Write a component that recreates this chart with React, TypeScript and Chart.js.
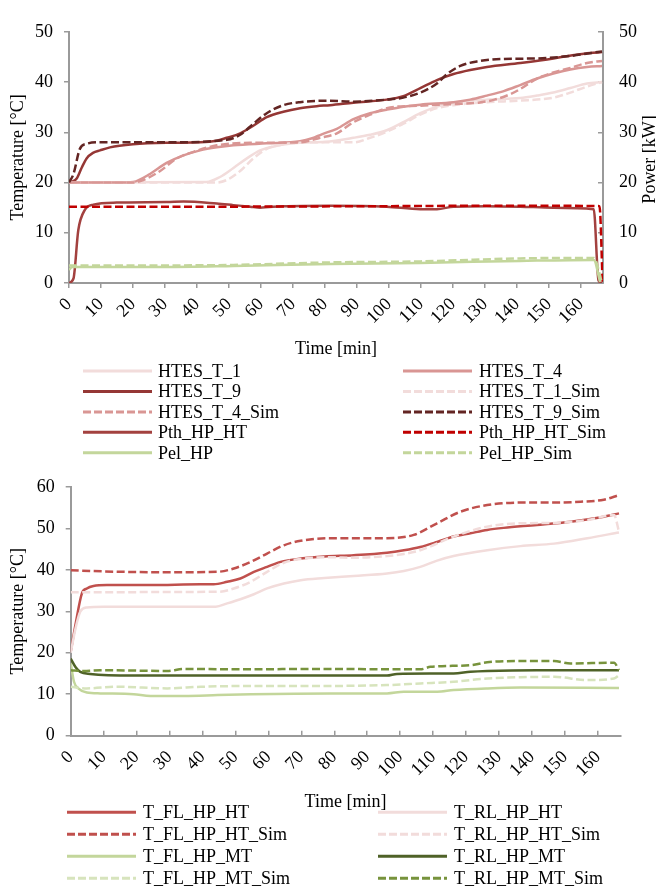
import React, { useEffect, useRef } from "react";
import { Chart, registerables } from "chart.js";

Chart.register(...registerables);

const FONT = "'Liberation Serif', 'Times New Roman', serif";

type Pt = [number, number];

// ---------- shared ticks ----------
const TIME_TICKS = [0, 10, 20, 30, 40, 50, 60, 70, 80, 90, 100, 110, 120, 130, 140, 150, 160];

// ---------- top chart data (time [min], value) ----------
const HTES_T_1: Pt[] = [[0, 20], [43, 20.1], [47.2, 21.1], [51.4, 22.9], [55.6, 24.8], [59.7, 26.4], [64.9, 27.3], [72.2, 27.9], [80, 28.1], [88.9, 28.9], [94.1, 29.5], [99.3, 30.4], [104.5, 32.0], [109.8, 33.8], [115, 35.1], [120.2, 35.9], [130.6, 36.5], [141, 36.8], [146.3, 37.3], [151.4, 37.9], [156.7, 38.8], [161.9, 39.7], [166.6, 40.0]];
const HTES_T_4: Pt[] = [[0, 20], [18, 20], [20.1, 20.1], [25.3, 21.7], [30.5, 23.9], [35.8, 25.4], [41, 26.4], [46.2, 27], [51.4, 27.4], [61.8, 27.8], [72.2, 28.2], [76, 28.8], [79, 29.6], [83.7, 30.7], [88.9, 32.6], [94.1, 33.8], [99.3, 34.5], [104.5, 35.1], [109.8, 35.5], [120.2, 36.0], [125.4, 36.5], [130.6, 37.3], [135.9, 38.2], [141, 39.4], [146.3, 40.7], [151.4, 41.7], [156.7, 42.5], [161.9, 43.0], [166.6, 43.2]];
const HTES_T_9: Pt[] = [[0, 20], [1, 20.2], [2.4, 20.8], [4, 23], [5.5, 24.8], [7.5, 25.9], [9.7, 26.4], [12.8, 27], [20, 27.6], [30.5, 27.9], [41, 28.0], [46, 28.3], [49.3, 28.9], [53.5, 29.8], [57.6, 31.3], [61.8, 33.0], [67, 34.1], [72.2, 34.8], [77.4, 35.2], [81.6, 35.4], [88.9, 35.9], [99.3, 36.5], [104.5, 37.2], [109.8, 38.8], [115, 40.4], [120.2, 41.6], [125.4, 42.4], [130.6, 43.0], [141, 43.8], [151.4, 44.7], [158, 45.4], [166.6, 46.0]];
const HTES_T_1_SIM: Pt[] = [[0, 20], [46, 20], [49.3, 20.5], [53.5, 22.3], [57.6, 24.8], [61.8, 26.7], [67, 27.6], [77.4, 28], [88.9, 28], [94.1, 28.9], [99.3, 30.1], [104.5, 31.7], [109.8, 33.5], [115, 34.8], [120.2, 35.4], [130.6, 36.0], [141, 36.3], [151.4, 36.9], [156.7, 37.9], [161.9, 39.1], [166.6, 40]];
const HTES_T_4_SIM: Pt[] = [[0, 20], [20, 20], [23.2, 20.5], [28.5, 22.3], [33.7, 24.8], [38.9, 26.1], [46.2, 27.4], [56.6, 27.9], [72.2, 28], [78.5, 28.9], [83.7, 29.8], [88.9, 32.0], [94.1, 33.5], [99.3, 34.8], [109.8, 35.3], [120.2, 35.6], [128, 35.9], [133, 36.5], [138, 37.6], [141, 38.6], [146.3, 40.7], [151.4, 41.9], [156.7, 42.8], [161.9, 43.8], [166.6, 44.2]];
const HTES_T_9_SIM: Pt[] = [[0, 20], [1.4, 21.7], [3.4, 26.7], [5.5, 27.7], [9.7, 28], [30, 28], [49.3, 28.5], [53.5, 29.5], [57.6, 31.7], [61.8, 33.8], [67, 35.4], [72.2, 36], [81.6, 36.3], [88.9, 36.1], [99.3, 36.5], [104.5, 36.9], [109.8, 37.9], [115, 39.7], [118.2, 41.6], [122.3, 43.2], [127.5, 44.1], [135.9, 44.6], [146.3, 44.7], [156.7, 45.2], [166.6, 46.1]];
const PTH_HP_HT: Pt[] = [[0, 0], [1.4, 0.9], [2.9, 10.5], [5, 14.6], [7.6, 15.6], [14.9, 16], [30.5, 16.1], [35.8, 16.2], [46.2, 15.8], [51.4, 15.5], [56.6, 15.2], [59.7, 15.0], [67, 15.3], [81.6, 15.4], [99.3, 15.2], [109.8, 14.7], [115, 14.7], [120.2, 15.2], [130.6, 15.3], [141, 15.2], [151.4, 15.0], [164, 14.7], [165.5, 0.5], [166.6, 0]];
const PTH_HP_HT_SIM: Pt[] = [[0, 15.2], [50, 15.2], [100, 15.3], [140, 15.4], [165.8, 15.3], [166.8, 0]];
const PEL_HP: Pt[] = [[0, 2.6], [1, 3.2], [30, 3.2], [51.4, 3.4], [81.6, 3.8], [109.8, 4.0], [141, 4.4], [164, 4.6], [166, 0.2]];
const PEL_HP_SIM: Pt[] = [[0, 3.5], [30, 3.5], [51.4, 3.6], [81.6, 4.1], [109.8, 4.3], [141, 4.9], [164, 5.0], [166.6, 0]];

// ---------- bottom chart data ----------
const T_FL_HP_HT: Pt[] = [[0, 20.2], [1.5, 27], [3.4, 34.3], [4.9, 35.5], [6.9, 36.1], [11, 36.3], [24.1, 36.3], [39.4, 36.5], [43.4, 36.5], [47.5, 37.1], [51.5, 37.9], [55.6, 39.5], [59.6, 40.7], [63.7, 41.9], [69.8, 42.7], [77, 43.2], [85.9, 43.5], [96, 44.1], [101.1, 44.7], [106.1, 45.5], [111.2, 46.7], [116.2, 48.0], [121.3, 48.8], [126.4, 49.6], [131.4, 50.1], [141.5, 50.8], [151.7, 51.6], [161.8, 52.8], [166.4, 53.6]];
const T_RL_HP_HT: Pt[] = [[0, 20], [1.5, 26], [2.9, 29.9], [4.9, 30.9], [10, 31.1], [44, 31.1], [47.5, 31.9], [51.5, 32.9], [55.6, 34.1], [59.6, 35.5], [64.7, 36.7], [69.8, 37.5], [77, 38], [85.9, 38.5], [96, 39.1], [101.1, 39.7], [106.1, 40.7], [111.2, 42.2], [116.2, 43.3], [126.4, 44.7], [136.5, 45.7], [146.7, 46.3], [156.8, 47.6], [166.4, 49.0]];
const T_FL_HP_HT_SIM: Pt[] = [[0, 39.9], [10, 39.6], [30, 39.4], [44.4, 39.5], [49.5, 40.3], [54.6, 41.9], [59.6, 43.9], [64.7, 45.9], [69.8, 47.0], [79, 47.6], [96, 47.6], [104.1, 48.4], [111.2, 51.2], [118.3, 54.0], [126.4, 55.6], [136.5, 56.2], [146.7, 56.2], [154.8, 56.4], [161.8, 56.9], [166.4, 58.0]];
const T_RL_HP_HT_SIM: Pt[] = [[0, 34.6], [45, 34.7], [49.5, 35.5], [54.6, 37.1], [59.6, 39.5], [64.7, 41.7], [69.8, 42.6], [79, 43.0], [85.9, 42.9], [96, 43.3], [101.1, 43.8], [106.1, 44.7], [116.2, 48.0], [126.4, 50.4], [136.5, 51.2], [146.7, 51.3], [156.8, 52.0], [164.9, 53.2], [166.4, 49.2]];
const T_FL_HP_MT: Pt[] = [[0, 17.5], [1, 13], [2.3, 11.4], [4.9, 10.4], [9, 10.2], [19.1, 10.0], [24.2, 9.6], [34.4, 9.6], [44.6, 9.8], [54.8, 10.0], [79, 10.2], [96, 10.2], [101.1, 10.6], [111.2, 10.6], [116.2, 11.0], [126.4, 11.4], [136.5, 11.6], [166.4, 11.5]];
const T_RL_HP_MT: Pt[] = [[0, 18.6], [1.5, 16.5], [2.9, 15.4], [5.9, 14.9], [19.1, 14.5], [79, 14.5], [96, 14.5], [99, 14.9], [116.2, 15.0], [121.3, 15.4], [126.4, 15.6], [141.5, 15.8], [166.4, 15.8]];
const T_FL_HP_MT_SIM: Pt[] = [[0, 11.8], [4.9, 11.4], [14, 11.8], [29.3, 11.4], [39.5, 11.8], [59.6, 12.0], [79, 12.0], [96, 12.2], [106.1, 12.6], [116.2, 13.0], [126.4, 13.8], [136.5, 14.1], [146.7, 14.2], [156.8, 13.4], [164.9, 13.8], [166.4, 14.6]];
const T_RL_HP_MT_SIM: Pt[] = [[0, 15.8], [3.9, 15.6], [9, 15.8], [29.3, 15.6], [34.4, 16.1], [49.5, 16.0], [79, 16.1], [96, 16.0], [106.1, 16.0], [109.2, 16.6], [121.3, 17.0], [126.4, 17.7], [136.5, 18.0], [146.7, 18.0], [151.7, 17.4], [164.9, 17.6], [166.4, 15.8]];

const DASH = [8, 3.5];

function series(label: string, pts: Pt[], color: string, dashed: boolean, idx: number, yAxisID = "y") {
  return {
    label,
    data: pts.map(([x, y]) => ({ x, y })),
    borderColor: color,
    backgroundColor: color,
    borderWidth: 2.5,
    borderDash: dashed ? DASH : [],
    pointRadius: 0,
    fill: false,
    cubicInterpolationMode: "monotone" as const,
    order: -idx,
    yAxisID,
  };
}

const gridLegend = {
  id: "gridLegend",
  afterDraw(chart: any, _args: any, opts: any) {
    const ctx = chart.ctx as CanvasRenderingContext2D;
    ctx.save();
    chart.data.datasets.forEach((ds: any, i: number) => {
      const c = opts.cols[i % 2];
      const y = opts.rowY0 + Math.floor(i / 2) * opts.rowStep;
      ctx.beginPath();
      ctx.setLineDash(ds.borderDash && ds.borderDash.length ? [8, 3] : []);
      ctx.strokeStyle = ds.borderColor;
      ctx.lineWidth = 3;
      ctx.moveTo(c.x0, y);
      ctx.lineTo(c.x1, y);
      ctx.stroke();
      ctx.setLineDash([]);
      ctx.fillStyle = "#000";
      ctx.font = `18px ${FONT}`;
      ctx.textBaseline = "middle";
      ctx.textAlign = "left";
      ctx.fillText(ds.label, c.tx, y + 1);
    });
    if (opts.rightTitle) {
      const a = chart.chartArea;
      ctx.translate(opts.rightTitleX, (a.top + a.bottom) / 2 + 2);
      ctx.rotate(-Math.PI / 2);
      ctx.fillStyle = "#000";
      ctx.font = `18px ${FONT}`;
      ctx.textAlign = "center";
      ctx.textBaseline = "middle";
      ctx.fillText(opts.rightTitle, 0, 0);
    }
    ctx.restore();
  },
};

const AXIS_COLOR = "#9a9a9a";

function xAxis(max: number, tickLength: number, pad: number) {
  return {
    type: "linear" as const,
    position: "bottom" as const,
    min: 0,
    max,
    afterBuildTicks: (s: any) => {
      s.ticks = TIME_TICKS.map((v) => ({ value: v }));
    },
    ticks: { autoSkip: false, minRotation: 45, maxRotation: 45, padding: pad, color: "#000", font: { size: 18, family: FONT } },
    grid: { drawOnChartArea: false, drawTicks: true, tickLength, color: AXIS_COLOR, lineWidth: 1.5 },
    border: { display: true, color: AXIS_COLOR, width: 2 },
    title: { display: true, text: "Time [min]", color: "#000", font: { size: 18, family: FONT }, padding: { top: 0, bottom: 0 } },
    afterFit: (s: any) => {
      s.height = 77;
    },
  };
}

function yAxis(position: "left" | "right", max: number, width: number, tickLength: number, pad: number, title?: string) {
  return {
    type: "linear" as const,
    position,
    min: 0,
    max,
    ticks: { stepSize: 10, padding: pad, color: "#000", font: { size: 18, family: FONT } },
    grid: { drawOnChartArea: false, drawTicks: true, tickLength, color: AXIS_COLOR, lineWidth: 1.5 },
    border: { display: true, color: AXIS_COLOR, width: 2 },
    title: title
      ? { display: true, text: title, color: "#000", font: { size: 18, family: FONT }, padding: { top: 7, bottom: 0 } }
      : { display: false },
    afterFit: (s: any) => {
      s.width = width;
    },
  };
}

function ChartCanvas({ config, width, height, top }: { config: any; width: number; height: number; top: number }) {
  const ref = useRef<HTMLCanvasElement | null>(null);
  useEffect(() => {
    if (!ref.current) return;
    const chart = new Chart(ref.current, config);
    return () => chart.destroy();
  }, [config]);
  return (
    <canvas
      ref={ref}
      width={width}
      height={height}
      style={{ position: "absolute", left: 0, top, width, height }}
    />
  );
}

const TOP_H = 465;
const BOT_H = 426;

export default function App() {
  Chart.defaults.font.family = FONT;
  Chart.defaults.font.size = 18;
  Chart.defaults.color = "#000";

  const topConfig = React.useMemo(
    () => ({
      type: "line",
      data: {
        datasets: [
          series("HTES_T_1", HTES_T_1, "#F2DCDB", false, 0),
          series("HTES_T_4", HTES_T_4, "#D99694", false, 1),
          series("HTES_T_9", HTES_T_9, "#953735", false, 2),
          series("HTES_T_1_Sim", HTES_T_1_SIM, "#F2DCDB", true, 3),
          series("HTES_T_4_Sim", HTES_T_4_SIM, "#D99694", true, 4),
          series("HTES_T_9_Sim", HTES_T_9_SIM, "#632523", true, 5),
          series("Pth_HP_HT", PTH_HP_HT, "#A3413F", false, 6, "y1"),
          series("Pth_HP_HT_Sim", PTH_HP_HT_SIM, "#C00000", true, 7, "y1"),
          series("Pel_HP", PEL_HP, "#C3D69B", false, 8, "y1"),
          series("Pel_HP_Sim", PEL_HP_SIM, "#C3D69B", true, 9, "y1"),
        ],
      },
      options: {
        responsive: false,
        animation: false,
        devicePixelRatio: 1,
        layout: { padding: { top: 15, left: 0, right: 0, bottom: TOP_H - 283 - 77 } },
        plugins: {
          legend: { display: false },
          tooltip: { enabled: false },
          gridLegend: {
            cols: [
              { x0: 83, x1: 152, tx: 158 },
              { x0: 403, x1: 472, tx: 479 },
            ],
            rowY0: 371,
            rowStep: 20.45,
            rightTitle: "Power [kW]",
            rightTitleX: 650,
          },
        },
        scales: {
          x: xAxis(166.9, 5, 6),
          y: yAxis("left", 50, 69, 5, 11, "Temperature [°C]"),
          y1: yAxis("right", 50, 53, -5, 21),
        },
      },
      plugins: [gridLegend],
    }),
    []
  );

  const botConfig = React.useMemo(
    () => ({
      type: "line",
      data: {
        datasets: [
          series("T_FL_HP_HT", T_FL_HP_HT, "#C0504D", false, 0),
          series("T_RL_HP_HT", T_RL_HP_HT, "#F2DCDB", false, 1),
          series("T_FL_HP_HT_Sim", T_FL_HP_HT_SIM, "#C0504D", true, 2),
          series("T_RL_HP_HT_Sim", T_RL_HP_HT_SIM, "#F2DCDB", true, 3),
          series("T_FL_HP_MT", T_FL_HP_MT, "#C3D69B", false, 4),
          series("T_RL_HP_MT", T_RL_HP_MT, "#4F6228", false, 5),
          series("T_FL_HP_MT_Sim", T_FL_HP_MT_SIM, "#D7E4BD", true, 6),
          series("T_RL_HP_MT_Sim", T_RL_HP_MT_SIM, "#77933C", true, 7),
        ],
      },
      options: {
        responsive: false,
        animation: false,
        devicePixelRatio: 1,
        layout: { padding: { top: 21.7, left: 0, right: 35.7, bottom: BOT_H - 270.7 - 77 } },
        plugins: {
          legend: { display: false },
          tooltip: { enabled: false },
          gridLegend: {
            cols: [
              { x0: 67, x1: 136, tx: 143 },
              { x0: 378, x1: 447, tx: 454 },
            ],
            rowY0: 347.3,
            rowStep: 22,
          },
        },
        scales: {
          x: xAxis(166.8, -5, 16),
          y: yAxis("left", 60, 70.7, 5, 11, "Temperature [°C]"),
        },
      },
      plugins: [gridLegend],
    }),
    []
  );

  return (
    <div style={{ position: "absolute", left: 0, top: 0, width: 656, height: 891, background: "#fff" }}>
      <ChartCanvas config={topConfig} width={656} height={TOP_H} top={0} />
      <ChartCanvas config={botConfig} width={656} height={BOT_H} top={TOP_H} />
    </div>
  );
}
